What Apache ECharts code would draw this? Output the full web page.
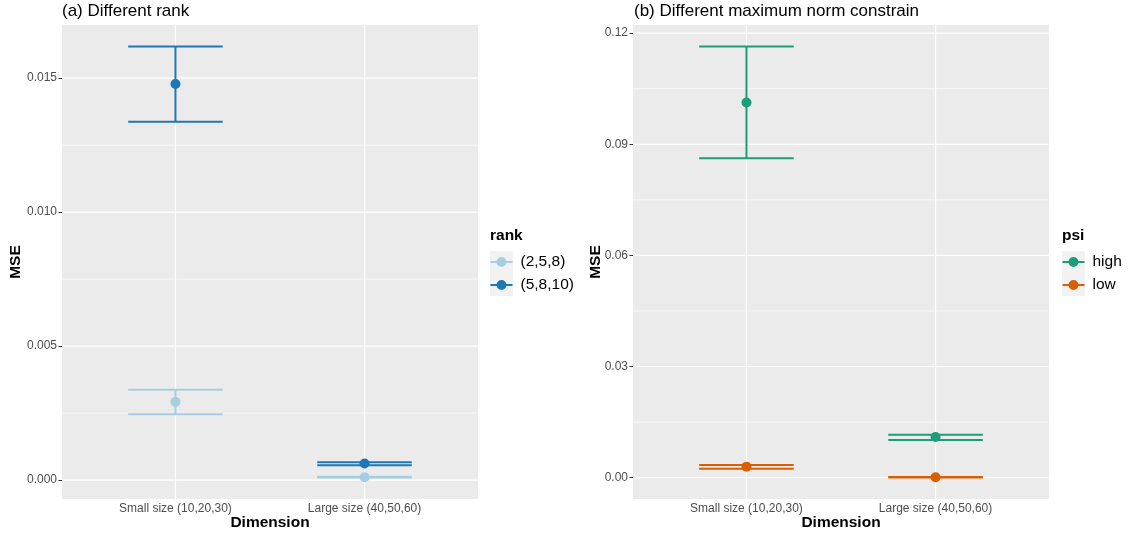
<!DOCTYPE html>
<html>
<head>
<meta charset="utf-8">
<script src="https://cdn.jsdelivr.net/npm/echarts@6/dist/echarts.min.js"></script>
<style>
  html, body { margin: 0; padding: 0; background: #fff; }
  #chart { width: 1129px; height: 537px; }
</style>
</head>
<body>
<div id="chart"></div>
<script>
// categorias del eje x (posiciones 1 y 2, como en ggplot)
var categories = ['Small size (10,20,30)', 'Large size (40,50,60)'];
var xPos = [1, 2];

// panel (a): rank
var rankNames = ['(2,5,8)', '(5,8,10)'];
var rankColors = ['#A6CEE3', '#1F78B4'];
var rank258Mean = [0.00292, 0.00011];
var rank258Low = [0.00246, 0.00010];
var rank258High = [0.00337, 0.00013];
var rank5810Mean = [0.01478, 0.00062];
var rank5810Low = [0.01337, 0.00056];
var rank5810High = [0.01618, 0.00067];
var rankTicks = [0, 0.005, 0.010, 0.015];
var rankMinor = [0.0025, 0.0075, 0.0125];

// panel (b): psi
var psiNames = ['high', 'low'];
var psiColors = ['#1B9E77', '#D95F02'];
var psiHighMean = [0.10127, 0.01099];
var psiHighLow = [0.08625, 0.01018];
var psiHighHigh = [0.11639, 0.01161];
var psiLowMean = [0.00297, 0.00010];
var psiLowLow = [0.00243, 0.00005];
var psiLowHigh = [0.00343, 0.00015];
var psiTicks = [0, 0.03, 0.06, 0.09, 0.12];
var psiMinor = [0.015, 0.045, 0.075, 0.105];

var FONT = 'Liberation Sans';
var legendIcon = 'path://M0,4L6.5,4L6.5,6L0,6Z M15.5,4L22,4L22,6L15.5,6Z M11,0A5,5 0 1,1 11,10A5,5 0 1,1 11,0Z';

// expansion 5% like ggplot
function expand(lows, highs) {
  var lo = Math.min.apply(null, lows), hi = Math.max.apply(null, highs);
  var d = (hi - lo) * 0.05;
  return [lo - d, hi + d];
}
var rankRange = expand(rank258Low.concat(rank5810Low), rank258High.concat(rank5810High));
var psiRange = expand(psiHighLow.concat(psiLowLow), psiHighHigh.concat(psiLowHigh));

function rows(low, high) {
  return xPos.map(function (x, i) { return [x, low[i], high[i]]; });
}
function pts(mean) {
  return xPos.map(function (x, i) { return [x, mean[i]]; });
}

function errorBarSeries(name, color, idx, low, high) {
  return {
    type: 'custom', name: name, xAxisIndex: idx, yAxisIndex: idx, z: 2, silent: true,
    itemStyle: { color: color },
    encode: { x: 0, y: [1, 2] },
    data: rows(low, high),
    renderItem: function (params, api) {
      var x = api.value(0);
      var a = api.coord([x, api.value(1)]);
      var b = api.coord([x, api.value(2)]);
      var half = api.coord([x + 0.25, api.value(1)])[0] - a[0];
      var st = { stroke: color, lineWidth: 2 };
      return {
        type: 'group',
        children: [
          { type: 'line', shape: { x1: a[0], y1: a[1], x2: b[0], y2: b[1] }, style: st },
          { type: 'line', shape: { x1: a[0] - half, y1: a[1], x2: a[0] + half, y2: a[1] }, style: st },
          { type: 'line', shape: { x1: b[0] - half, y1: b[1], x2: b[0] + half, y2: b[1] }, style: st }
        ]
      };
    }
  };
}

function pointSeries(name, color, idx, mean) {
  return {
    type: 'scatter', name: name, xAxisIndex: idx, yAxisIndex: idx, z: 3,
    symbolSize: 10, itemStyle: { color: color, opacity: 1 },
    data: pts(mean)
  };
}

// lineas de la rejilla (blancas) como serie custom
function gridSeries(idx, majors, minors) {
  var data = [];
  majors.forEach(function (v) { data.push([1, v, 0, 1.2]); });
  minors.forEach(function (v) { data.push([1, v, 0, 0.6]); });
  xPos.forEach(function (x) { data.push([x, 0, 1, 1.2]); });
  return {
    type: 'custom', xAxisIndex: idx, yAxisIndex: idx, z: 1, silent: true,
    data: data,
    renderItem: function (params, api) {
      var cs = params.coordSys;
      var p = api.coord([api.value(0), api.value(1)]);
      var shape = api.value(2) === 0
        ? { x1: cs.x, y1: p[1], x2: cs.x + cs.width, y2: p[1] }
        : { x1: p[0], y1: cs.y, x2: p[0], y2: cs.y + cs.height };
      return { type: 'line', shape: shape, style: { stroke: '#FFFFFF', lineWidth: api.value(3) } };
    }
  };
}

function xAxisCfg(idx) {
  return {
    type: 'value', gridIndex: idx, min: 0.4, max: 2.6,
    name: 'Dimension', nameLocation: 'middle', nameGap: 16, nameMoveOverlap: false,
    nameTextStyle: { fontFamily: FONT, fontSize: 15.5, fontWeight: 'bold', color: '#000' },
    axisLine: { show: false },
    axisTick: { show: true, customValues: xPos, length: 3.5, lineStyle: { color: '#333333' } },
    axisLabel: {
      customValues: xPos, margin: 4, fontFamily: FONT, fontSize: 12, color: '#4D4D4D',
      formatter: function (v) { return categories[Math.round(v) - 1]; }
    },
    splitLine: { show: false }
  };
}

function yAxisCfg(idx, range, ticks, digits, gap) {
  return {
    type: 'value', gridIndex: idx, min: range[0], max: range[1],
    name: 'MSE', nameLocation: 'middle', nameRotate: 90, nameGap: gap, nameMoveOverlap: false,
    nameTextStyle: { fontFamily: FONT, fontSize: 15.5, fontWeight: 'bold', color: '#000' },
    axisLine: { show: false },
    axisTick: { show: true, customValues: ticks, length: 3.5, lineStyle: { color: '#333333' } },
    axisLabel: {
      customValues: ticks, margin: 5, fontFamily: FONT, fontSize: 12, color: '#4D4D4D',
      formatter: function (v) { return v.toFixed(digits); }
    },
    splitLine: { show: false }
  };
}

function legendCfg(names, left, titleText) {
  return {
    orient: 'vertical', left: left, top: 254, padding: 0,
    itemWidth: 22, itemHeight: 10, itemGap: 7, selectedMode: false,
    icon: legendIcon,
    textStyle: { fontFamily: FONT, fontSize: 15.5, color: '#000', padding: [0, 0, 0, 3] },
    data: names
  };
}

var chart = echarts.init(document.getElementById('chart'));
var option = {
  animation: false,
  title: [
    { text: '(a) Different rank', left: 62, top: 3, padding: 0,
      textStyle: { fontFamily: FONT, fontSize: 17, fontWeight: 'normal', color: '#000' } },
    { text: '(b) Different maximum norm constrain', left: 634, top: 3, padding: 0,
      textStyle: { fontFamily: FONT, fontSize: 17, fontWeight: 'normal', color: '#000' } },
    { text: 'rank', left: 490, top: 228, padding: 0,
      textStyle: { fontFamily: FONT, fontSize: 15.5, fontWeight: 'bold', color: '#000' } },
    { text: 'psi', left: 1062, top: 228, padding: 0,
      textStyle: { fontFamily: FONT, fontSize: 15.5, fontWeight: 'bold', color: '#000' } }
  ],
  graphic: [
    { type: 'rect', left: 490, top: 251, shape: { width: 23, height: 45 }, style: { fill: '#F2F2F2' }, z: -1 },
    { type: 'rect', left: 1062, top: 251, shape: { width: 23, height: 45 }, style: { fill: '#F2F2F2' }, z: -1 }
  ],
  legend: [
    legendCfg(rankNames, 490.5),
    legendCfg(psiNames, 1062.5)
  ],
  grid: [
    { left: 62, right: 651, top: 25, bottom: 38, show: true, backgroundColor: '#EBEBEB', borderWidth: 0 },
    { left: 633, right: 80, top: 25, bottom: 38, show: true, backgroundColor: '#EBEBEB', borderWidth: 0 }
  ],
  xAxis: [xAxisCfg(0), xAxisCfg(1)],
  yAxis: [
    yAxisCfg(0, rankRange, rankTicks, 3, 38),
    yAxisCfg(1, psiRange, psiTicks, 2, 29)
  ],
  series: [
    gridSeries(0, rankTicks, rankMinor),
    gridSeries(1, psiTicks, psiMinor),
    errorBarSeries(rankNames[0], rankColors[0], 0, rank258Low, rank258High),
    errorBarSeries(rankNames[1], rankColors[1], 0, rank5810Low, rank5810High),
    pointSeries(rankNames[0], rankColors[0], 0, rank258Mean),
    pointSeries(rankNames[1], rankColors[1], 0, rank5810Mean),
    errorBarSeries(psiNames[0], psiColors[0], 1, psiHighLow, psiHighHigh),
    errorBarSeries(psiNames[1], psiColors[1], 1, psiLowLow, psiLowHigh),
    pointSeries(psiNames[0], psiColors[0], 1, psiHighMean),
    pointSeries(psiNames[1], psiColors[1], 1, psiLowMean)
  ]
};
chart.setOption(option);

window.addEventListener('resize', function () {
  if (chart) chart.resize();
});
</script>
</body>
</html>
